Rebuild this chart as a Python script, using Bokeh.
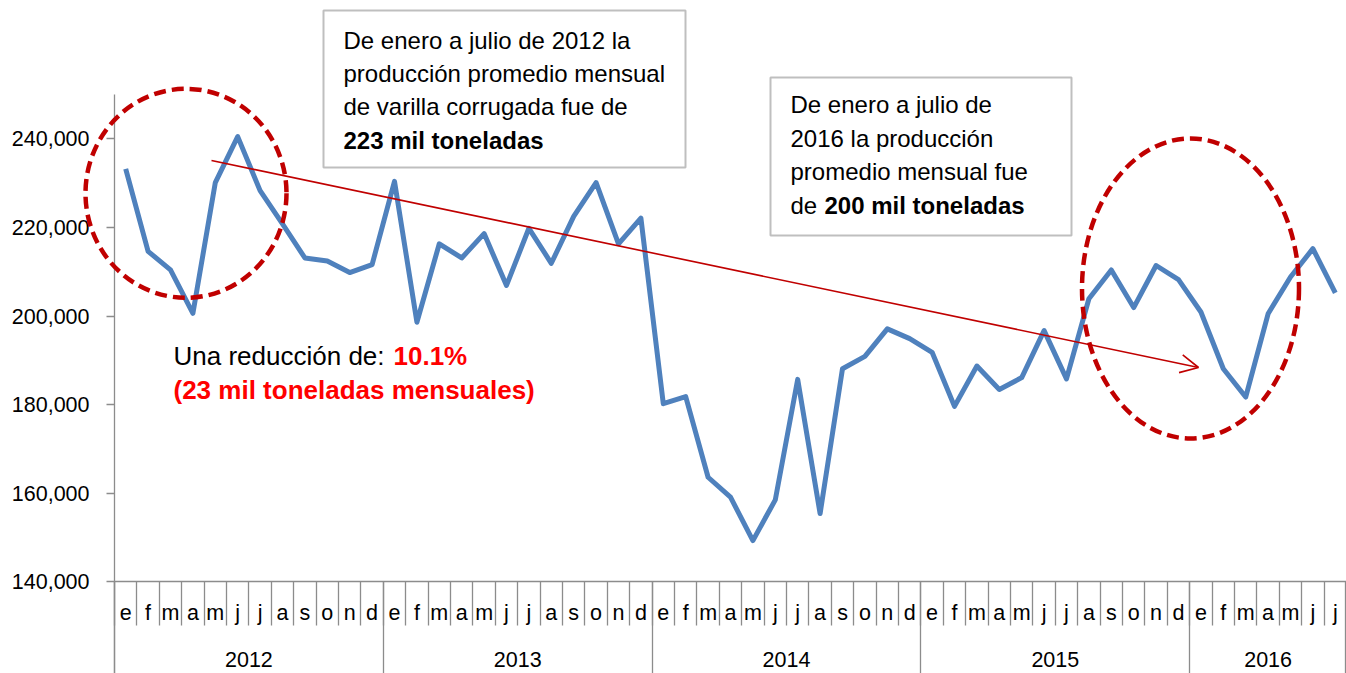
from bokeh.plotting import figure
from bokeh.models import (Range1d, LinearAxis, FixedTicker, CustomJSTickFormatter,
                          NumeralTickFormatter, Arrow, OpenHead)
from bokeh.core.properties import value
from bokeh.embed import file_html
from bokeh.resources import INLINE

# ---------------- data ----------------
months = ["e", "f", "m", "a", "m", "j", "j", "a", "s", "o", "n", "d"]
years = ["2012", "2013", "2014", "2015", "2016"]
prod_2012 = [233200, 214600, 210400, 200600, 230100, 240500, 228300, 220800, 213100, 212400, 209800, 211600]
prod_2013 = [230400, 198600, 216300, 213100, 218600, 206900, 219800, 211900, 222500, 230100, 216300, 222100]
prod_2014 = [180200, 181800, 163600, 159100, 149300, 158500, 185700, 155400, 188100, 190900, 197100, 194900]
prod_2015 = [191800, 179600, 188700, 183400, 186100, 196700, 185800, 203900, 210400, 201900, 211400, 208200]
prod_2016 = [200900, 188100, 181700, 200500, 208800, 215200, 205200]
y_ticks = [140000, 160000, 180000, 200000, 220000, 240000]

box1_lines = ["De enero a julio de 2012 la", "producción promedio mensual", "de varilla corrugada fue de"]
box1_bold = "223 mil toneladas"
box2_lines = ["De enero a julio de", "2016 la producción", "promedio mensual fue"]
box2_prefix = "de "
box2_bold = "200 mil toneladas"
note_black = "Una reducción de: "
note_red1 = "10.1%"
note_red2 = "(23 mil toneladas mensuales)"

production = prod_2012 + prod_2013 + prod_2014 + prod_2015 + prod_2016
n = len(production)

# ---------------- layout ----------------
W, H = 1346, 673
LEFT = 114
MONTH_PX = (W - LEFT) / n
X0 = -LEFT / MONTH_PX
Y_PER_PX = 1000 / 4.43
Y1 = 240000 + 138.3 * Y_PER_PX
Y0 = Y1 - H * Y_PER_PX
FONT_NAME = "Liberation Sans"
FONT = value(FONT_NAME)
GRAY = "#8C8C8C"
BLUE = "#4F81BD"
RED = "#FF0000"
DARKRED = "#C00000"
AXIS_FS = "21.5px"


def px2x(px):
    return (px - LEFT) / MONTH_PX


def px2y(py):
    return 240000 - (py - 138.3) * Y_PER_PX


p = figure(width=W, height=H, x_range=Range1d(X0, n), y_range=Range1d(Y0, Y1),
           output_backend="svg", toolbar_location=None,
           x_axis_location=None, y_axis_location=None, min_border=0)
p.outline_line_color = None
p.background_fill_color = "white"
p.border_fill_color = "white"
p.grid.visible = False

blank = CustomJSTickFormatter(code="return '';")

# y axis
ya = LinearAxis(fixed_location=0, bounds=(Y0, 250000),
                ticker=FixedTicker(ticks=y_ticks, minor_ticks=[]),
                formatter=NumeralTickFormatter(format="0,0"),
                axis_line_color=GRAY, axis_line_width=1.3,
                major_tick_line_color=GRAY, major_tick_out=8, major_tick_in=0,
                major_tick_line_width=1.3,
                minor_tick_line_color=None,
                major_label_standoff=17,
                major_label_text_font=FONT_NAME, major_label_text_font_size=AXIS_FS,
                major_label_text_color="black")
p.add_layout(ya, "left")

# month separators + category axis line
month_bounds = list(range(n + 1))
xa_sep = LinearAxis(fixed_location=140000, bounds=(0, n),
                    ticker=FixedTicker(ticks=month_bounds, minor_ticks=[]),
                    formatter=blank,
                    axis_line_color=GRAY, axis_line_width=1.3,
                    major_tick_line_color=GRAY, major_tick_out=44, major_tick_in=0,
                    major_tick_line_width=1.3, minor_tick_line_color=None)
p.add_layout(xa_sep, "below")

# month labels
month_ticks = [i + 0.5 for i in range(n)]
xa_m = LinearAxis(fixed_location=140000,
                  ticker=FixedTicker(ticks=month_ticks, minor_ticks=[]),
                  formatter=CustomJSTickFormatter(args=dict(labels=months),
                                                  code="return labels[Math.floor(tick) % 12];"),
                  axis_line_color=None, major_tick_line_color=None,
                  major_tick_out=0, major_tick_in=0, minor_tick_line_color=None,
                  major_label_standoff=19,
                  major_label_text_font=FONT_NAME, major_label_text_font_size=AXIS_FS,
                  major_label_text_color="black")
p.add_layout(xa_m, "below")

# year separators
year_bounds = [12 * k for k in range(len(years))] + [n - 0.05]
xa_ysep = LinearAxis(fixed_location=140000,
                     ticker=FixedTicker(ticks=year_bounds, minor_ticks=[]),
                     formatter=blank,
                     axis_line_color=None, major_tick_line_color=GRAY,
                     major_tick_out=100, major_tick_in=0, major_tick_line_width=1.3,
                     minor_tick_line_color=None)
p.add_layout(xa_ysep, "below")

# year labels
year_centers = [(12 * k + min(12 * k + 12, n)) / 2 for k in range(len(years))]
xa_y = LinearAxis(fixed_location=140000,
                  ticker=FixedTicker(ticks=year_centers, minor_ticks=[]),
                  formatter=CustomJSTickFormatter(args=dict(labels=years),
                                                  code="return labels[Math.floor(tick / 12)];"),
                  axis_line_color=None, major_tick_line_color=None,
                  major_tick_out=0, major_tick_in=0, minor_tick_line_color=None,
                  major_label_standoff=70,
                  major_label_text_font=FONT_NAME, major_label_text_font_size=AXIS_FS,
                  major_label_text_color="black")
p.add_layout(xa_y, "below")

# data line
p.line(x=month_ticks, y=production, line_color=BLUE, line_width=5, line_join="round")

# trend arrow
p.add_layout(Arrow(end=OpenHead(size=18, line_color=DARKRED, line_width=1.6),
                   x_start=px2x(211), y_start=px2y(160), x_end=px2x(1198), y_end=px2y(367),
                   line_color=DARKRED, line_width=1.6))

# dashed ellipses
p.ellipse(x=[px2x(185.5), px2x(1190)], y=[px2y(192.8), px2y(288)],
          width=[201, 217], height=[209, 300], width_units="screen", height_units="screen",
          fill_color=None, line_color=DARKRED, line_width=4.5, line_dash="12 6", level="overlay")

# text boxes
p.quad(left=[px2x(323), px2x(770)], right=[px2x(685), px2x(1071)],
       top=[px2y(10), px2y(77)], bottom=[px2y(167), px2y(235)],
       fill_color="white", line_color="#BFBFBF", line_width=2, level="overlay")

b1_base = [39.5, 73, 106]
p.text(x=[px2x(343)] * 3, y=[px2y(b) for b in b1_base], text=box1_lines,
       text_font=FONT, text_font_size="24px", text_color="black",
       text_align="left", text_baseline="alphabetic", level="overlay")
p.text(x=[px2x(343)], y=[px2y(139.5)], text=[box1_bold],
       text_font=FONT, text_font_size="24px", text_font_style="bold", text_color="black",
       text_align="left", text_baseline="alphabetic", level="overlay")

b2_base = [104, 138, 171]
p.text(x=[px2x(790)] * 3, y=[px2y(b) for b in b2_base], text=box2_lines,
       text_font=FONT, text_font_size="24px", text_color="black",
       text_align="left", text_baseline="alphabetic", level="overlay")
p.text(x=[px2x(790)], y=[px2y(205)], text=[box2_prefix],
       text_font=FONT, text_font_size="24px", text_color="black",
       text_align="left", text_baseline="alphabetic", level="overlay")
p.text(x=[px2x(824)], y=[px2y(205)], text=[box2_bold],
       text_font=FONT, text_font_size="24px", text_font_style="bold", text_color="black",
       text_align="left", text_baseline="alphabetic", level="overlay")

# reduction note
p.text(x=[px2x(173)], y=[px2y(355)], text=[note_black],
       text_font=FONT, text_font_size="26px", text_color="black",
       text_align="left", text_baseline="alphabetic")
p.text(x=[px2x(393)], y=[px2y(355)], text=[note_red1],
       text_font=FONT, text_font_size="26px", text_font_style="bold", text_color=RED,
       text_align="left", text_baseline="alphabetic")
p.text(x=[px2x(173)], y=[px2y(389)], text=[note_red2],
       text_font=FONT, text_font_size="26px", text_font_style="bold", text_color=RED,
       text_align="left", text_baseline="alphabetic")

open("out.html", "w").write(file_html(p, INLINE))
